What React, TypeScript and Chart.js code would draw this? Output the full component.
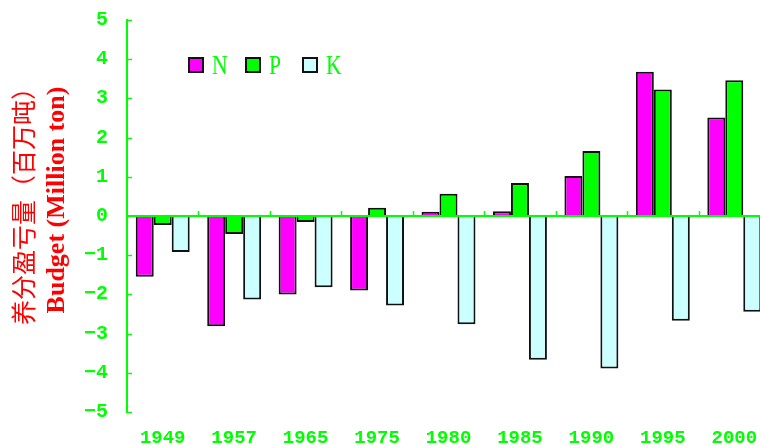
import React, { useEffect, useRef } from "react";
import { Chart, registerables } from "chart.js";

Chart.register(...registerables);

const years = ["1949", "1957", "1965", "1975", "1980", "1985", "1990", "1995", "2000"];
const nValues = [-1.55, -2.81, -2.0, -1.9, 0.11, 0.12, 1.02, 3.68, 2.51];
const pValues = [-0.23, -0.46, -0.15, 0.21, 0.57, 0.84, 1.66, 3.23, 3.46];
const kValues = [-0.92, -2.13, -1.82, -2.28, -2.76, -3.67, -3.89, -2.67, -2.44];
const seriesLabels = ["N", "P", "K"];
const seriesColors = ["#ff00ff", "#00ff00", "#ccffff"];
const yTitleZh = "养分盈亏量（百万吨）";
const yTitleEn = "Budget (Million ton)";
const yMin = -5;
const yMax = 5;
const yStep = 1;

const GREEN = "#00ff00";
const RED = "#ff0000";
const TICK_FONT = { family: "'Liberation Mono', 'DejaVu Sans Mono', monospace", size: 19, weight: "bold" as const };

const overlayPlugin = {
  id: "overlay",
  afterDatasetsDraw(chart: any) {
    const { ctx, chartArea, scales } = chart;
    const x = scales.x;
    const y = scales.y;
    const y0 = y.getPixelForValue(0);
    ctx.save();
    // zero line
    ctx.strokeStyle = GREEN;
    ctx.lineWidth = 2;
    ctx.beginPath();
    ctx.moveTo(chartArea.left, y0);
    ctx.lineTo(chartArea.right, y0);
    ctx.stroke();
    // category boundary ticks on zero line
    ctx.lineWidth = 1.5;
    const n = chart.data.labels.length;
    for (let i = 1; i < n; i++) {
      const bx = Math.round((x.getPixelForValue(i - 1) + x.getPixelForValue(i)) / 2) + 0.5;
      ctx.beginPath();
      ctx.moveTo(bx, y0);
      ctx.lineTo(bx, y0 - 5);
      ctx.stroke();
    }
    // inward y ticks
    for (let v = yMin; v <= yMax; v += yStep) {
      const py = Math.round(y.getPixelForValue(v)) + 0.5;
      ctx.beginPath();
      ctx.moveTo(chartArea.left, py);
      ctx.lineTo(chartArea.left + 5, py);
      ctx.stroke();
    }
    // legend
    const lx0 = chartArea.left + 61;
    const ly = chartArea.top + 37;
    chart.data.datasets.forEach((ds: any, i: number) => {
      const bx = lx0 + i * 57;
      ctx.fillStyle = ds.backgroundColor;
      ctx.fillRect(bx, ly, 16, 16);
      ctx.strokeStyle = "#111";
      ctx.lineWidth = 2;
      ctx.strokeRect(bx + 1, ly + 1, 14, 14);
      ctx.save();
      ctx.translate(bx + 24, ly + 17);
      ctx.scale(0.8, 1);
      ctx.fillStyle = GREEN;
      ctx.font = "27px 'Liberation Serif', serif";
      ctx.textBaseline = "alphabetic";
      ctx.textAlign = "left";
      ctx.fillText(ds.label, 0, 0);
      ctx.restore();
    });
    ctx.restore();
  },
  afterDraw(chart: any) {
    const { ctx } = chart;
    ctx.save();
    ctx.fillStyle = RED;
    ctx.textAlign = "center";
    ctx.textBaseline = "middle";
    ctx.translate(0, 200);
    ctx.rotate(-Math.PI / 2);
    ctx.font = "25px 'Noto Sans CJK SC', sans-serif";
    ctx.fillText(yTitleZh, 0, 23);
    ctx.font = "bold 26px 'Liberation Serif', serif";
    ctx.fillText(yTitleEn, 0, 57);
    ctx.restore();
  },
};

export default function App() {
  const canvasRef = useRef<HTMLCanvasElement | null>(null);

  useEffect(() => {
    const canvas = canvasRef.current;
    if (!canvas) return;
    const chart = new Chart(canvas, {
      type: "bar",
      data: {
        labels: years,
        datasets: [nValues, pValues, kValues].map((vals, i) => ({
          label: seriesLabels[i],
          data: vals,
          backgroundColor: seriesColors[i],
          borderColor: "#111111",
          borderWidth: 2,
          categoryPercentage: 0.755,
          barPercentage: 1,
        })),
      },
      options: {
        responsive: false,
        animation: false,
        devicePixelRatio: 1,
        layout: { padding: { top: 20, right: 2, left: 0, bottom: 0 } },
        plugins: {
          legend: { display: false },
          tooltip: { enabled: false },
          title: { display: false },
        },
        scales: {
          x: {
            grid: { display: false },
            border: { display: false },
            ticks: { color: GREEN, font: TICK_FONT, padding: 7, maxRotation: 0, autoSkip: false },
            afterFit: (s: any) => {
              s.height = 35;
              s.paddingLeft = 0;
              s.paddingRight = 0;
            },
          },
          y: {
            min: yMin,
            max: yMax,
            grid: { display: false, drawTicks: false },
            border: { display: true, color: GREEN, width: 2 },
            ticks: {
              stepSize: yStep,
              color: GREEN,
              font: { ...TICK_FONT, size: 20 },
              padding: 19,
              callback: (v: any) => (Number(v) < 0 ? "\u2212" + Math.abs(Number(v)) : String(v)),
            },
            afterFit: (s: any) => {
              s.width = 127;
              s.paddingTop = 0;
              s.paddingBottom = 0;
            },
          },
        },
      },
      plugins: [overlayPlugin],
    });
    return () => chart.destroy();
  }, []);

  return (
    <div
      style={{
        position: "fixed",
        left: 0,
        top: 0,
        width: 760,
        height: 447,
        overflow: "hidden",
        background: "#ffffff",
      }}
    >
      <canvas ref={canvasRef} width={772} height={447} style={{ display: "block", width: 772, height: 447 }} />
    </div>
  );
}
